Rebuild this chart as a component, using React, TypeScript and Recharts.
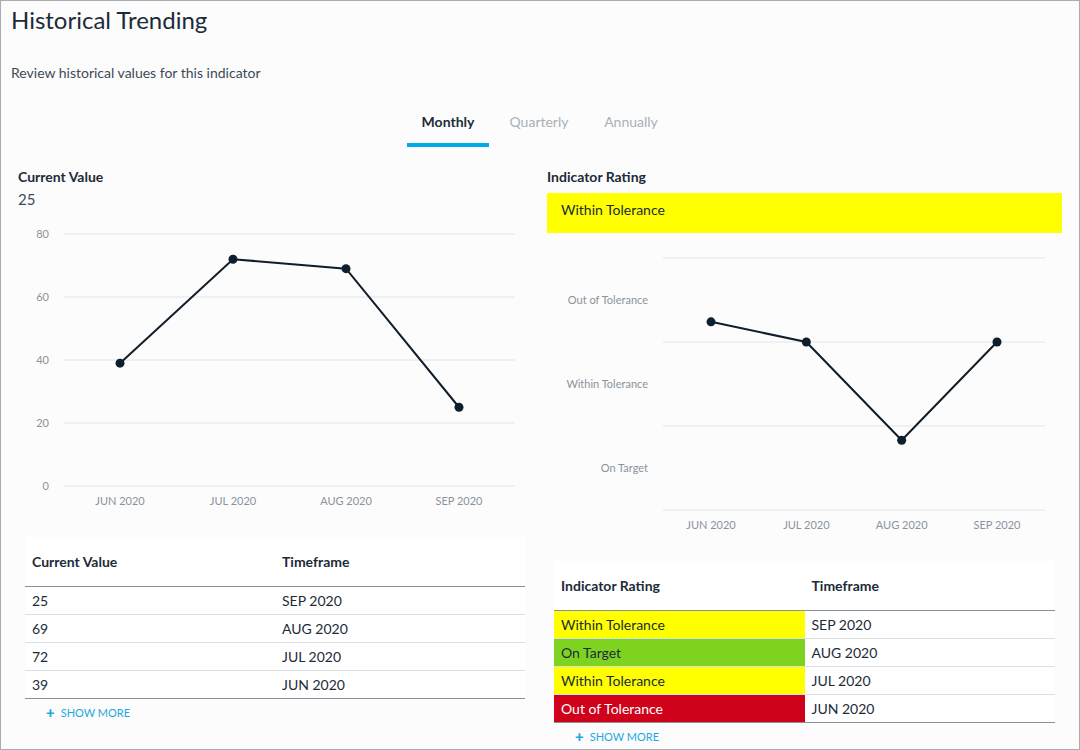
import React from "react";
import {
  LineChart,
  Line,
  XAxis,
  YAxis,
  CartesianGrid,
  ReferenceLine,
} from "recharts";

const months = ["JUN 2020", "JUL 2020", "AUG 2020", "SEP 2020"];
const currentValues = [39, 72, 69, 25];
const valueTicks = [0, 20, 40, 60, 80];

// rating score per month (0 = bottom, 3 = top)
const ratingScores = [2.24, 2.0, 0.83, 2.0];
const ratingBands = ["On Target", "Within Tolerance", "Out of Tolerance"];
const ratingLabelTicks = [0.5, 1.5, 2.5];
const ratingGridValues = [0, 1, 2, 3];

const tableRatings = ["Within Tolerance", "On Target", "Within Tolerance", "Out of Tolerance"];
const tableMonths = ["SEP 2020", "AUG 2020", "JUL 2020", "JUN 2020"];
const tableValues = [25, 69, 72, 39];

const ratingColours: { [key: string]: { bg: string; fg: string } } = {
  "Within Tolerance": { bg: "#ffff00", fg: "#1c2b39" },
  "On Target": { bg: "#7ed321", fg: "#1c2b39" },
  "Out of Tolerance": { bg: "#d0021b", fg: "#ffffff" },
};

const valueData = months.map((m, i) => ({ month: m, value: currentValues[i] }));
const ratingData = months.map((m, i) => ({ month: m, score: ratingScores[i] }));

const FONT = "Lato, 'Open Sans', sans-serif";
const DARK = "#1c2b39";
const TICK = { fill: "#8a939c", fontSize: 11, fontFamily: FONT };

const abs = (left: number, top: number, extra: React.CSSProperties = {}): React.CSSProperties => ({
  position: "absolute",
  left,
  top,
  ...extra,
});

function ShowMore({ left, top }: { left: number; top: number }) {
  return (
    <div style={abs(left, top, { color: "#1ea8e0", fontSize: 11, display: "flex", alignItems: "center", gap: 6 })}>
      <span style={{ fontWeight: 900, fontSize: 15, lineHeight: "11px" }}>+</span>
      <span>SHOW MORE</span>
    </div>
  );
}

export default function App() {
  const cell: React.CSSProperties = {
    height: 27,
    padding: "0 7px",
    borderBottom: "1px solid #dcdfe2",
    fontSize: 14,
    color: DARK,
  };
  const head: React.CSSProperties = {
    height: 49,
    padding: "0 7px",
    textAlign: "left",
    fontWeight: 700,
    fontSize: 14,
    color: DARK,
    borderBottom: "1px solid #8a9098",
  };
  const lastBorder = "1px solid #8a9098";

  return (
    <div
      style={{
        position: "absolute",
        left: 0,
        top: 0,
        width: 1078,
        height: 748,
        border: "1px solid #a9adb2",
        background: "#fcfcfc",
        fontFamily: FONT,
        color: DARK,
        overflow: "hidden",
      }}
    >
      <div style={abs(10, 4, { fontSize: 24, fontWeight: 400 })}>Historical Trending</div>
      <div style={abs(10, 63, { fontSize: 14, color: "#3c4a58" })}>Review historical values for this indicator</div>

      {/* tabs */}
      <div style={abs(406, 112, { width: 82, textAlign: "center", fontSize: 14, fontWeight: 700 })}>Monthly</div>
      <div style={abs(406, 142, { width: 82, height: 4, background: "#00a9e8" })} />
      <div style={abs(499, 112, { width: 78, textAlign: "center", fontSize: 14, color: "#a8b0b8" })}>Quarterly</div>
      <div style={abs(591, 112, { width: 78, textAlign: "center", fontSize: 14, color: "#a8b0b8" })}>Annually</div>

      {/* left chart */}
      <div style={abs(17, 167, { fontSize: 14, fontWeight: 700 })}>Current Value</div>
      <div style={abs(17, 189, { fontSize: 15, color: "#3c4a58" })}>25</div>
      <div style={abs(-1, 219)}>
        <LineChart width={531} height={300} data={valueData} margin={{ top: 14, right: 16, bottom: 4, left: 0 }}>
          <CartesianGrid vertical={false} stroke="#e2e4e6" />
          <XAxis
            dataKey="month"
            axisLine={false}
            tickLine={false}
            tick={TICK}
            height={30}
            interval={0}
            tickMargin={5}
            padding={{ left: 56, right: 56 }}
          />
          <YAxis
            domain={[0, 80]}
            ticks={valueTicks}
            axisLine={false}
            tickLine={false}
            tick={TICK}
            width={64}
            tickMargin={9}
          />
          <Line
            type="linear"
            dataKey="value"
            stroke="#0f1e2c"
            strokeWidth={2}
            dot={{ r: 4.5, fill: "#0f1e2c", stroke: "#0f1e2c", strokeWidth: 0 }}
            isAnimationActive={false}
          />
        </LineChart>
      </div>

      {/* right chart */}
      <div style={abs(546, 167, { fontSize: 14, fontWeight: 700 })}>Indicator Rating</div>
      <div
        style={abs(546, 192, {
          width: 501,
          height: 40,
          paddingLeft: 14,
          background: ratingColours[tableRatings[0]].bg,
          fontSize: 14,
          lineHeight: "34px",
        })}
      >
        {tableRatings[0]}
      </div>
      <div style={abs(539, 239)}>
        <LineChart width={540} height={300} data={ratingData} margin={{ top: 18, right: 35, bottom: 0, left: 0 }}>
          {ratingGridValues.map((v) => (
            <ReferenceLine key={v} y={v} stroke="#e2e4e6" ifOverflow="extendDomain" />
          ))}
          <XAxis
            dataKey="month"
            axisLine={false}
            tickLine={false}
            tick={TICK}
            height={30}
            interval={0}
            tickMargin={5}
            padding={{ left: 48, right: 48 }}
          />
          <YAxis
            domain={[0, 3]}
            ticks={ratingLabelTicks}
            tickFormatter={(v: number) => ratingBands[Math.floor(v)]}
            axisLine={false}
            tickLine={false}
            tick={TICK}
            width={123}
            tickMargin={9}
          />
          <Line
            type="linear"
            dataKey="score"
            stroke="#0f1e2c"
            strokeWidth={2}
            dot={{ r: 4.5, fill: "#0f1e2c", stroke: "#0f1e2c", strokeWidth: 0 }}
            isAnimationActive={false}
          />
        </LineChart>
      </div>

      {/* left table */}
      <div style={abs(24, 536, { width: 500, background: "#ffffff" })}>
        <table style={{ width: 500, borderCollapse: "collapse", tableLayout: "fixed" }}>
          <thead>
            <tr>
              <th style={head}>Current Value</th>
              <th style={head}>Timeframe</th>
            </tr>
          </thead>
          <tbody>
            {tableValues.map((v, i) => (
              <tr key={i}>
                <td style={{ ...cell, borderBottom: i === 3 ? lastBorder : cell.borderBottom }}>{v}</td>
                <td style={{ ...cell, borderBottom: i === 3 ? lastBorder : cell.borderBottom }}>{tableMonths[i]}</td>
              </tr>
            ))}
          </tbody>
        </table>
      </div>
      <ShowMore left={45} top={705} />

      {/* right table */}
      <div style={abs(553, 560, { width: 501, background: "#ffffff" })}>
        <table style={{ width: 501, borderCollapse: "collapse", tableLayout: "fixed" }}>
          <thead>
            <tr>
              <th style={head}>Indicator Rating</th>
              <th style={head}>Timeframe</th>
            </tr>
          </thead>
          <tbody>
            {tableRatings.map((r, i) => (
              <tr key={i}>
                <td
                  style={{
                    ...cell,
                    background: ratingColours[r].bg,
                    color: ratingColours[r].fg,
                    borderBottom: i === 3 ? lastBorder : "1px solid #dcdfe2",
                  }}
                >
                  {r}
                </td>
                <td style={{ ...cell, borderBottom: i === 3 ? lastBorder : cell.borderBottom }}>{tableMonths[i]}</td>
              </tr>
            ))}
          </tbody>
        </table>
      </div>
      <ShowMore left={574} top={729} />
    </div>
  );
}
